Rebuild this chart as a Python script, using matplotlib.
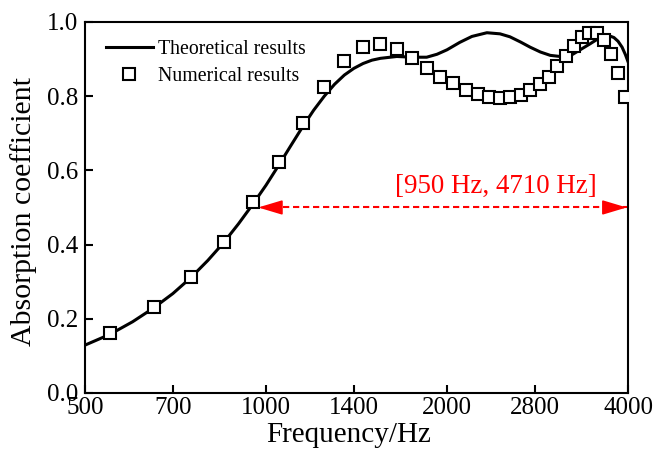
import matplotlib
matplotlib.use("Agg")
import matplotlib.pyplot as plt

plt.rcParams['font.family'] = ['Liberation Serif', 'DejaVu Serif']

# theoretical curve
theo_f = [500, 550, 600, 650, 700, 750, 800, 850, 900, 950, 1000, 1050, 1100,
          1150, 1200, 1250, 1300, 1350, 1400, 1450, 1500, 1550, 1650, 1750,
          1850, 1925, 2000, 2100, 2200, 2330, 2450, 2545, 2650, 2750, 2860,
          2970, 3120, 3230, 3330, 3450, 3553, 3640, 3720, 3790, 3850, 3910,
          3960, 4000]
theo_a = [0.129, 0.158, 0.192, 0.229, 0.268, 0.311, 0.357, 0.405, 0.456, 0.508,
          0.560, 0.614, 0.667, 0.717, 0.762, 0.800, 0.832, 0.857, 0.875, 0.888,
          0.897, 0.902, 0.907, 0.905, 0.905, 0.913, 0.925, 0.945, 0.961, 0.971,
          0.968, 0.960, 0.946, 0.932, 0.919, 0.910, 0.906, 0.912, 0.925, 0.940,
          0.953, 0.962, 0.963, 0.958, 0.948, 0.932, 0.912, 0.893]

# numerical results
num_f = [550, 650, 750, 850, 950, 1050, 1150, 1250, 1350, 1450, 1550, 1650,
         1750, 1850, 1950, 2050, 2150, 2250, 2350, 2450, 2550, 2650, 2750,
         2850, 2950, 3050, 3150, 3250, 3350, 3450, 3550, 3650, 3750, 3850, 3950]
num_a = [0.162, 0.231, 0.313, 0.408, 0.514, 0.623, 0.729, 0.826, 0.896, 0.933,
         0.941, 0.926, 0.902, 0.876, 0.853, 0.835, 0.817, 0.806, 0.799, 0.794,
         0.797, 0.803, 0.817, 0.833, 0.853, 0.880, 0.907, 0.935, 0.960, 0.971,
         0.971, 0.951, 0.915, 0.863, 0.799]

xticks = [500, 700, 1000, 1400, 2000, 2800, 4000]
yticks = [0.0, 0.2, 0.4, 0.6, 0.8, 1.0]

band_lo, band_hi = 950, 4000
band_y = 0.50
band_label = "[950 Hz, 4710 Hz]"

fig = plt.figure(figsize=(6.57, 4.53), dpi=100)
ax = fig.add_axes([0.1294, 0.1325, 0.8265, 0.819])

ax.plot(theo_f, theo_a, color='black', lw=2.2, label='Theoretical results', zorder=3)
ax.plot(num_f, num_a, ls='none', marker='s', ms=8.5, mfc='white', mec='black',
        mew=1.5, label='Numerical results', zorder=4)

ax.set_xscale('log')
ax.set_xlim(500, 4000)
ax.set_ylim(0, 1.0)
ax.set_xticks(xticks)
ax.set_xticklabels([str(t) for t in xticks])
ax.xaxis.set_minor_locator(matplotlib.ticker.NullLocator())
ax.set_yticks(yticks)
ax.set_yticklabels(['%.1f' % t for t in yticks])
ax.tick_params(direction='in', length=6, width=1.5, labelsize=18,
               top=False, right=False)
ax.tick_params(axis='x', pad=3)
ax.tick_params(axis='y', pad=5)

for s in ax.spines.values():
    s.set_linewidth(1.5)

ax.set_xlabel('Frequency/Hz', fontsize=21)
ax.set_ylabel('Absorption coefficient', fontsize=21.5)
ax.xaxis.set_label_coords(0.486, -0.078)
ax.yaxis.set_label_coords(-0.088, 0.49)

# red band: dashed line plus two solid arrow heads
ax.plot([band_lo, band_hi], [band_y, band_y], color='red', lw=1.5,
        ls=(0, (3, 1.8)), zorder=2)
head = dict(arrowstyle='-|>,head_length=1.0,head_width=0.3', color='red',
            lw=1.2, mutation_scale=15, shrinkA=0)
ax.annotate('', xy=(band_lo, band_y), xytext=(16, 0), textcoords='offset points',
            arrowprops=dict(head, shrinkB=4), zorder=2)
ax.annotate('', xy=(band_hi, band_y), xytext=(-16, 0), textcoords='offset points',
            arrowprops=dict(head, shrinkB=1), zorder=2)
ax.text(2412, 0.556, band_label, color='red', fontsize=19.4,
        ha='center', va='center')

ax.legend(loc='upper left', frameon=False, fontsize=14.3, handlelength=2.36,
          handletextpad=0.25, borderaxespad=0.3, labelspacing=0.4,
          bbox_to_anchor=(0.013, 0.989))

fig.savefig('out.png', dpi=100)
